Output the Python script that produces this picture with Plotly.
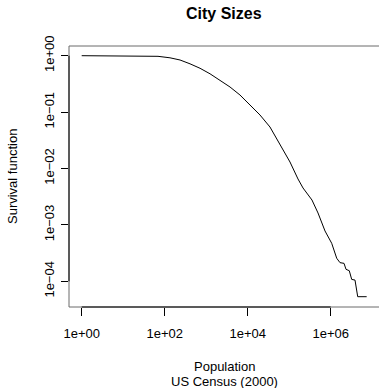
import plotly.graph_objects as go

# Empirical survival function of US place populations (Census 2000)
population = [1, 8.4, 25.4, 69, 134, 234, 407, 710, 1236, 2153, 3750, 6516,
              11350, 19770, 34430, 65920, 104500, 162900, 215300, 354000,
              494300, 729500, 1057000, 1396000, 1675000, 2094000, 2339000,
              2805000, 3206000, 3855000, 4477000, 7362000]
survival = [1.0, 1.0, 0.9954, 0.975, 0.918, 0.8395, 0.7178, 0.5984, 0.4775,
            0.3707, 0.2786, 0.201, 0.1365, 0.0889, 0.0544, 0.02438, 0.01303,
            0.00652, 0.00451, 0.00276, 0.001626, 0.00078, 0.000472, 0.000256,
            0.000214, 0.000208, 0.000163, 0.000154, 0.000108, 0.000105,
            5.33e-5, 5.33e-5]

x_ticks = [1, 1e2, 1e4, 1e6]
x_labels = ["1e+00", "1e+02", "1e+04", "1e+06"]
y_ticks = [1, 1e-1, 1e-2, 1e-3, 1e-4]
y_labels = ["1e+00", "1e\u221201", "1e\u221202", "1e\u221203", "1e\u221204"]

FONT = "Liberation Sans, Arial, Helvetica, sans-serif"

fig = go.Figure()
fig.add_trace(go.Scatter(x=population, y=survival, mode="lines",
                         line=dict(color="black", width=1),
                         hoverinfo="skip", showlegend=False))

axis_common = dict(showgrid=False, zeroline=False, showline=False,
                   ticks="outside", tickcolor="black", tickwidth=1,
                   tickfont=dict(family=FONT, size=13, color="black"))

fig.update_xaxes(type="log", range=[-0.306, 7.164], tickvals=x_ticks,
                 ticktext=x_labels, ticklen=8, ticklabelstandoff=6,
                 **axis_common)
fig.update_yaxes(type="log", range=[-4.456, 0.172], tickvals=y_ticks,
                 ticktext=y_labels, ticklen=7, tickangle=-90,
                 ticklabelstandoff=2, **axis_common)

# plot box (the right side falls outside the page)
box = "#6a6a6a"
for x0, y0, x1, y1 in [(0, 1, 1, 1), (0, 0, 1, 0), (0, 0, 0, 1)]:
    fig.add_shape(type="line", xref="paper", yref="paper",
                  x0=x0, y0=y0, x1=x1, y1=y1,
                  line=dict(color=box, width=1))
# axis lines spanning the first to last tick
fig.add_shape(type="line", xref="x", yref="paper", x0=x_ticks[0], x1=x_ticks[-1],
              y0=0, y1=0, line=dict(color="black", width=1))
fig.add_shape(type="line", xref="paper", yref="y", x0=0, x1=0,
              y0=y_ticks[-1], y1=y_ticks[0], line=dict(color="black", width=1))

fig.add_annotation(text="<b>City Sizes</b>", xref="paper", yref="paper",
                   x=0.5, y=1, yanchor="middle", yshift=32.5, showarrow=False,
                   font=dict(family=FONT, size=16, color="black"))
fig.add_annotation(text="Population", xref="paper", yref="paper",
                   x=0.5, y=0, yanchor="middle", yshift=-59, showarrow=False,
                   font=dict(family=FONT, size=13, color="black"))
fig.add_annotation(text="US Census (2000)", xref="paper", yref="paper",
                   x=0.5, y=0, yanchor="middle", yshift=-74.7, showarrow=False,
                   font=dict(family=FONT, size=13, color="black"))
fig.add_annotation(text="Survival function", xref="paper", yref="paper",
                   x=0, y=0.5, xanchor="center", xshift=-56.5, textangle=-90,
                   showarrow=False,
                   font=dict(family=FONT, size=13, color="black"))

fig.update_layout(width=379, height=388,
                  margin=dict(l=69, r=0, t=46, b=81, pad=0),
                  paper_bgcolor="white", plot_bgcolor="white")

fig.write_html("out.html")
